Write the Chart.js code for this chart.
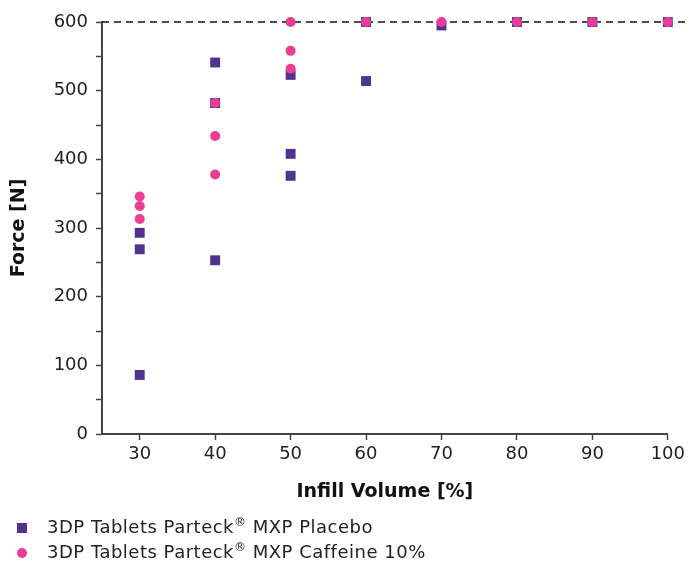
<!DOCTYPE html>
<html>
<head>
<meta charset="utf-8">
<script src="https://cdn.jsdelivr.net/npm/chart.js@4"></script>
<style>
  html, body { margin: 0; padding: 0; background: #ffffff; }
  #wrap { width: 689px; height: 564px; position: relative; }
</style>
</head>
<body>
<div id="wrap"><canvas id="grafica"></canvas></div>
<script>
// Datos
const placeboX = [30, 30, 30, 40, 40, 40, 50, 50, 50, 60, 60, 70, 80, 90, 100];
const placeboY = [293, 269, 86, 541, 482, 253, 523, 408, 376, 514, 600, 595, 600, 600, 600];
const caffeineX = [30, 30, 30, 40, 40, 40, 50, 50, 50, 60, 70, 80, 90, 100];
const caffeineY = [346, 332, 313, 482, 434, 378, 600, 558, 532, 600, 600, 600, 600, 600];
const xTicks = [30, 40, 50, 60, 70, 80, 90, 100];
const yTicks = [0, 50, 100, 150, 200, 250, 300, 350, 400, 450, 500, 550, 600];
const forceLimit = 600;

const FUENTE = 'DejaVu Sans, Verdana, sans-serif';
const MORADO = '#503291';
const ROSA = '#EB3C96';

const toPoints = (xs, ys) => xs.map((x, i) => ({ x, y: ys[i] }));

// linea discontinua en el limite de fuerza
const lineaLimite = {
  id: 'lineaLimite',
  beforeDatasetsDraw(chart) {
    const ctx = chart.ctx;
    const y = chart.scales.y.getPixelForValue(forceLimit);
    ctx.save();
    ctx.strokeStyle = '#111';
    ctx.lineWidth = 1.3;
    ctx.setLineDash([7, 5]);
    ctx.beginPath();
    ctx.moveTo(chart.chartArea.left, y);
    ctx.lineTo(chart.width - 3, y);
    ctx.stroke();
    ctx.restore();
  }
};

// leyenda propia (con ® en superindice)
const leyenda = {
  id: 'leyenda',
  afterDraw(chart) {
    const ctx = chart.ctx;
    ctx.save();
    ctx.letterSpacing = '0.5px';
    chart.data.datasets.forEach((ds, i) => {
      const y = chart.height - 36 + i * 25;
      ctx.fillStyle = ds.backgroundColor;
      if (ds.pointStyle === 'rect') {
        ctx.fillRect(17, y - 5, 10, 10);
      } else {
        ctx.beginPath();
        ctx.arc(22, y, 5, 0, Math.PI * 2);
        ctx.fill();
      }
      ctx.fillStyle = '#222';
      ctx.textBaseline = 'middle';
      let x = 47;
      const partes = ds.label.split('®');
      partes.forEach((p, k) => {
        ctx.font = '18px ' + FUENTE;
        ctx.fillText(p, x, y);
        x += ctx.measureText(p).width;
        if (k < partes.length - 1) {
          ctx.font = '12px ' + FUENTE;
          ctx.fillText('®', x, y - 5);
          x += ctx.measureText('®').width;
        }
      });
    });
    ctx.restore();
  }
};

new Chart(document.getElementById('grafica'), {
  type: 'scatter',
  data: {
    datasets: [
      {
        label: '3DP Tablets Parteck® MXP Placebo',
        data: toPoints(placeboX, placeboY),
        pointStyle: 'rect',
        pointRadius: 7,
        borderWidth: 0,
        backgroundColor: MORADO,
        clip: false,
        order: 1
      },
      {
        label: '3DP Tablets Parteck® MXP Caffeine 10%',
        data: toPoints(caffeineX, caffeineY),
        pointStyle: 'circle',
        pointRadius: 5,
        borderWidth: 0,
        backgroundColor: ROSA,
        clip: false,
        order: 0
      }
    ]
  },
  options: {
    responsive: true,
    maintainAspectRatio: false,
    animation: false,
    layout: { padding: { left: 0, top: 22, right: 17, bottom: 60 } },
    plugins: {
      legend: { display: false },
      tooltip: { enabled: false }
    },
    scales: {
      x: {
        type: 'linear',
        min: 25,
        max: 100,
        afterBuildTicks: s => { s.ticks = xTicks.map(v => ({ value: v })); },
        afterFit: s => { s.height = 70; },
        ticks: {
          autoSkip: false,
          maxRotation: 0,
          padding: 4,
          color: '#222',
          font: { family: FUENTE, size: 18 }
        },
        grid: { drawOnChartArea: false, tickLength: 6, tickColor: '#444', tickWidth: 1.5 },
        border: { color: '#444', width: 2 },
        title: {
          display: true,
          text: 'Infill Volume [%]',
          color: '#111',
          padding: { top: 4, bottom: 1 },
          font: { family: FUENTE, size: 19, weight: 'bold' }
        }
      },
      y: {
        min: 0,
        max: 600,
        afterBuildTicks: s => { s.ticks = yTicks.map(v => ({ value: v })); },
        afterFit: s => { s.width = 102; },
        ticks: {
          padding: 8,
          color: '#222',
          font: { family: FUENTE, size: 18 },
          callback: v => (v % 100 === 0 ? v : '')
        },
        grid: { drawOnChartArea: false, tickLength: 6, tickColor: '#444', tickWidth: 1.5 },
        border: { color: '#444', width: 2 },
        title: {
          display: true,
          text: 'Force [N]',
          color: '#111',
          padding: { top: 8, bottom: 0 },
          font: { family: FUENTE, size: 19, weight: 'bold' }
        }
      }
    }
  },
  plugins: [lineaLimite, leyenda]
});
</script>
</body>
</html>
